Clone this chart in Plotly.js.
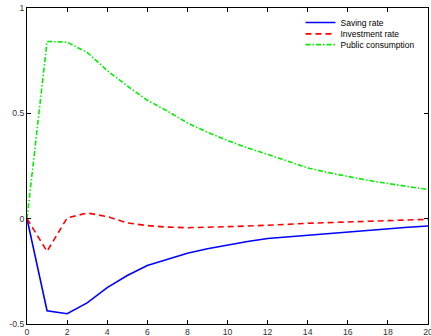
<!DOCTYPE html>
<html>
<head>
<meta charset="utf-8">
<script src="https://cdn.plot.ly/plotly-3.0.1.min.js"></script>
<style>html,body{margin:0;padding:0;background:#fff;}#chart{width:431px;height:336px;}</style>
</head>
<body>
<div id="chart"></div>
<script>
const periods = [0,1,2,3,4,5,6,7,8,9,10,11,12,13,14,15,16,17,18,19,20];
const savingRate = [0,-0.437,-0.451,-0.40,-0.327,-0.27,-0.222,-0.192,-0.164,-0.143,-0.124,-0.108,-0.094,-0.086,-0.078,-0.07,-0.062,-0.055,-0.048,-0.041,-0.035];
const investmentRate = [0,-0.155,0.003,0.027,0.01,-0.02,-0.033,-0.04,-0.043,-0.042,-0.038,-0.035,-0.032,-0.027,-0.022,-0.019,-0.016,-0.013,-0.01,-0.006,-0.003];
const publicConsumption = [0,0.841,0.838,0.789,0.703,0.63,0.562,0.511,0.454,0.41,0.371,0.336,0.305,0.272,0.241,0.219,0.199,0.182,0.167,0.152,0.138];
const seriesNames = ["Saving rate","Investment rate","Public consumption"];
const xTicks = [0,2,4,6,8,10,12,14,16,18,20];
const yTicks = [-0.5,0,0.5,1];
const yTickText = ["-0.5","0","0.5","1"];

const traces = [
  {x: periods, y: savingRate, name: seriesNames[0], mode: 'lines', legend: 'legend',
   line: {color: '#0000ff', width: 1.6, dash: 'solid'}},
  {x: periods, y: investmentRate, name: seriesNames[1], mode: 'lines', legend: 'legend2',
   line: {color: '#ff0000', width: 1.6, dash: '6px,4px'}},
  {x: periods, y: publicConsumption, name: seriesNames[2], mode: 'lines', legend: 'legend3',
   line: {color: '#00f000', width: 1.6, dash: '5px,2px,1.5px,2px'}}
];

const axisCommon = {
  showgrid: false, zeroline: false, showline: true, linecolor: '#000', linewidth: 1,
  mirror: 'ticks', ticks: 'inside', ticklen: 4, tickcolor: '#000', tickwidth: 1,
  ticklabeloverflow: 'allow',
  tickfont: {family: 'Liberation Sans, Arial, sans-serif', size: 8.7, color: '#333'}
};

function legendAt(yPos) {
  return {x: 0.682, y: yPos, xanchor: 'left', yanchor: 'top',
    bgcolor: 'rgba(0,0,0,0)', borderwidth: 0, itemwidth: 30, tracegroupgap: 0,
    font: {family: 'Liberation Sans, Arial, sans-serif', size: 8.5, color: '#000'}};
}

const layout = {
  width: 431, height: 336,
  margin: {l: 27, r: 3, t: 8, b: 12, pad: 0},
  paper_bgcolor: '#fff', plot_bgcolor: '#fff',
  showlegend: true,
  legend: legendAt(1.0),
  legend2: legendAt(0.964),
  legend3: legendAt(0.930),
  xaxis: Object.assign({}, axisCommon, {range: [0, 20], tickvals: xTicks, ticktext: xTicks.map(String)}),
  yaxis: Object.assign({}, axisCommon, {range: [-0.5, 1], tickvals: yTicks, ticktext: yTickText})
};

Plotly.newPlot('chart', traces, layout, {displayModeBar: false, staticPlot: true});
</script>
</body>
</html>
